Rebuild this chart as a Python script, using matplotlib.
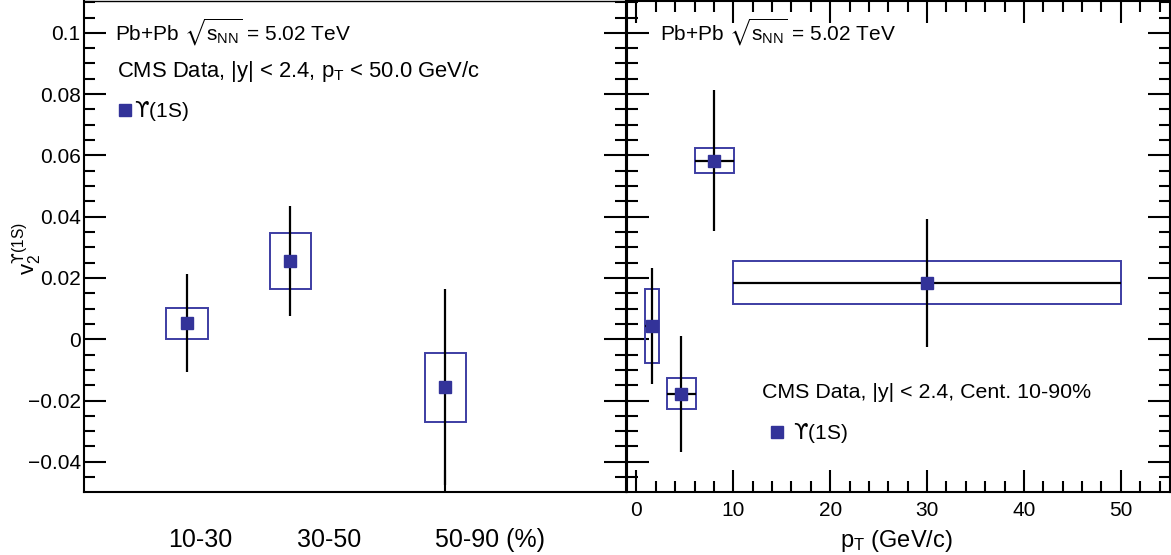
import matplotlib
matplotlib.use('Agg')
import matplotlib.pyplot as plt
from matplotlib.patches import Rectangle
from matplotlib.lines import Line2D
from matplotlib.ticker import MultipleLocator, FixedLocator, NullLocator

plt.rcParams['font.family'] = ['Liberation Sans', 'DejaVu Sans']
plt.rcParams['mathtext.fontset'] = 'custom'
plt.rcParams['mathtext.rm'] = 'Liberation Sans'
plt.rcParams['mathtext.it'] = 'Liberation Sans'
plt.rcParams['mathtext.bf'] = 'Liberation Sans:bold'
plt.rcParams['mathtext.sf'] = 'DejaVu Sans'
plt.rcParams['mathtext.fallback'] = 'stixsans'

# hooked upsilon, taken from DejaVu through \mathsf
UPS = r'$\mathsf{' + '\u03d2' + '}$'

# v2 vs centrality
cent_x = [20, 40, 70]
cent_labels = ['10-30', '30-50', '50-90 (%)']
cent_v2 = [0.0052, 0.0255, -0.0157]
cent_stat = [0.016, 0.018, 0.032]
cent_syst = [0.0051, 0.0092, 0.0113]

# v2 vs pT
pt_x = [1.6, 4.65, 8.05, 30.0]
pt_xerr = [0.7, 1.5, 2.0, 20.0]
pt_v2 = [0.0043, -0.0178, 0.0583, 0.0184]
pt_stat = [0.019, 0.019, 0.023, 0.021]
pt_syst = [0.012, 0.005, 0.004, 0.007]

W, H = 1171, 555
MARK = '#333399'
BOX = '#3d3da3'


def fx(px):
    return px / W


def fy(py):
    return 1 - py / H


fig = plt.figure(figsize=(W / 100, H / 100), dpi=100)
fig.patch.set_facecolor('white')

top, bot = 1, 491.5
ax1 = fig.add_axes([fx(83.5), fy(bot), fx(626 - 83.5), (bot - top) / H])
ax2 = fig.add_axes([fx(627), fy(bot), fx(1170 - 627), (bot - top) / H], sharey=ax1)

ylo, yhi = -0.0497, 0.1104
ax1.set_ylim(ylo, yhi)
ax1.set_xlim(0, 105)
ax2.set_xlim(-0.97, 55.07)

for ax in (ax1, ax2):
    for s in ax.spines.values():
        s.set_linewidth(1.5)
    ax.yaxis.set_major_locator(MultipleLocator(0.02))
    ax.yaxis.set_minor_locator(MultipleLocator(0.005))
    ax.tick_params(which='both', direction='in', width=1.5, left=True, right=True)
    ax.tick_params(which='major', length=16)
    ax.tick_params(which='minor', length=8)

ax1.spines['top'].set_linewidth(1.0)
ax1.xaxis.set_major_locator(FixedLocator([70]))
ax1.xaxis.set_minor_locator(NullLocator())
ax1.tick_params(axis='x', which='both', top=False, bottom=True, labelbottom=False)
ax1.tick_params(axis='y', labelsize=15, pad=2)
ax1.set_yticks([-0.04, -0.02, 0, 0.02, 0.04, 0.06, 0.08, 0.1])
ax1.set_yticklabels(['\u22120.04', '\u22120.02', '0', '0.02', '0.04', '0.06', '0.08', '0.1'])

ax2.xaxis.set_major_locator(MultipleLocator(10))
ax2.xaxis.set_minor_locator(MultipleLocator(2))
ax2.tick_params(axis='x', which='both', top=True, bottom=True, labelsize=15, pad=7)
ax2.tick_params(axis='y', which='both', labelleft=False)

# systematic boxes, statistical bars, markers
for x, y, sy in zip(cent_x, cent_v2, cent_syst):
    ax1.add_patch(Rectangle((x - 4, y - sy), 8, 2 * sy, fill=False,
                            edgecolor=BOX, lw=1.4, zorder=2))
ax1.errorbar(cent_x, cent_v2, yerr=cent_stat, fmt='none', ecolor='black',
             elinewidth=1.6, capsize=0, zorder=3)
ax1.plot(cent_x, cent_v2, 's', color=MARK, ms=8, zorder=4)

for x, dx, y, sy in zip(pt_x, pt_xerr, pt_v2, pt_syst):
    ax2.add_patch(Rectangle((x - dx, y - sy), 2 * dx, 2 * sy, fill=False,
                            edgecolor=BOX, lw=1.4, zorder=2))
ax2.errorbar(pt_x, pt_v2, xerr=pt_xerr, yerr=pt_stat, fmt='none', ecolor='black',
             elinewidth=1.6, capsize=0, zorder=3)
ax2.plot(pt_x, pt_v2, 's', color=MARK, ms=8, zorder=4)

# annotations
energy = r'Pb+Pb $\sqrt{s_{\rm NN}}$ = 5.02 TeV'
fig.text(fx(115), fy(41), energy, fontsize=15, va='baseline')
fig.text(fx(117), fy(77), r'CMS Data, |y| < 2.4, p$_{\rm T}$ < 50.0 GeV/c', fontsize=15.8,
         va='baseline')
fig.text(fx(660), fy(41), energy, fontsize=15, va='baseline')
fig.text(fx(762), fy(398), 'CMS Data, |y| < 2.4, Cent. 10-90%', fontsize=15.4, va='baseline')

handle = Line2D([], [], marker='s', ls='none', color=MARK, ms=8)
leg1 = ax1.legend([handle], [UPS + '(1S)'], loc='center left', frameon=False, fontsize=15,
                  bbox_to_anchor=(fx(119), fy(111)), bbox_transform=fig.transFigure,
                  borderpad=0, borderaxespad=0, handlelength=0.6, handletextpad=0.1)
leg2 = ax2.legend([handle], [UPS + '(1S)'], loc='center left', frameon=False, fontsize=15,
                  bbox_to_anchor=(fx(771), fy(433)), bbox_transform=fig.transFigure,
                  borderpad=0, borderaxespad=0, handlelength=0.6, handletextpad=0.45)

label_px = [200, 329, 490]
for lx, lab in zip(label_px, cent_labels):
    fig.text(fx(lx), fy(547), lab, fontsize=18, ha='center', va='baseline')

fig.text(fx(896), fy(547), r'p$_{\rm T}$ (GeV/c)', fontsize=17, ha='center', va='baseline')
fig.text(fx(27), fy(249), 'v$_{2}^{\\mathsf{\u03d2}\\rm (1S)}$', fontsize=16, rotation=90,
         ha='center', va='center')

fig.savefig('out.png', dpi=100, facecolor='white')
